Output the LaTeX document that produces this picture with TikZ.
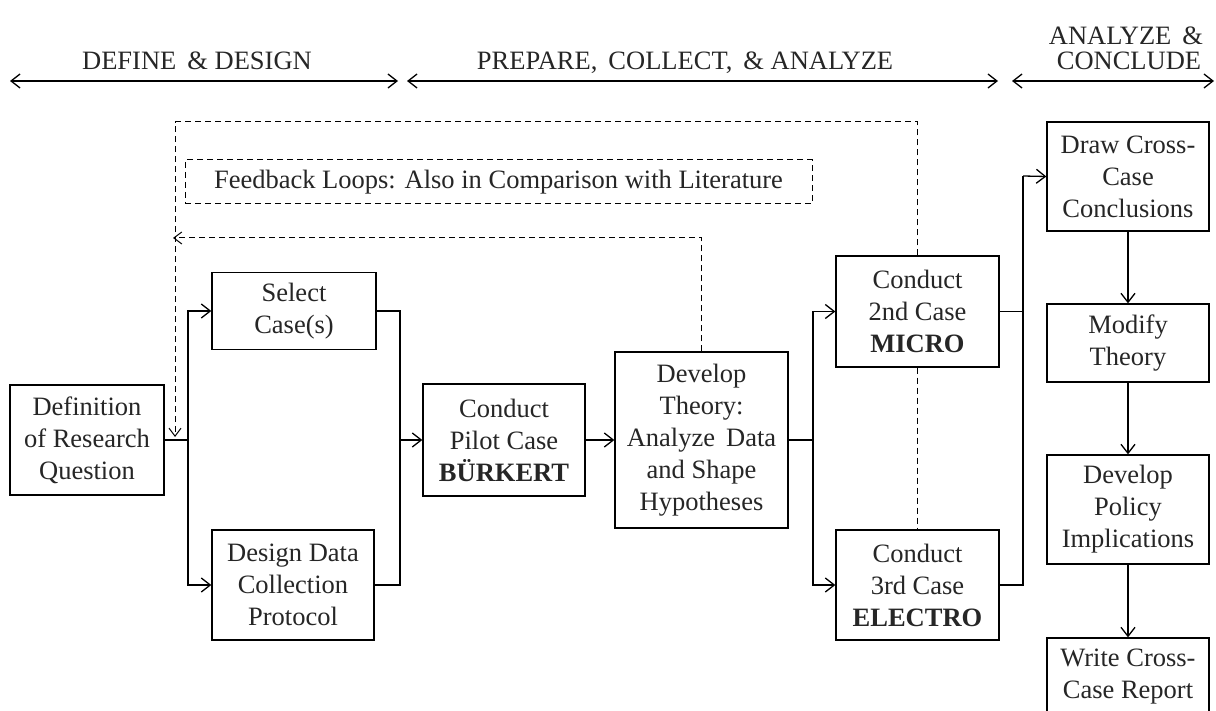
\documentclass[tikz,border=0pt]{standalone}
\usepackage{fontspec}
\setmainfont{Liberation Serif}
\usetikzlibrary{arrows.meta}
\begin{document}
\begin{tikzpicture}[x=1pt,y=-1pt,
  txt/.style={font=\fontsize{26.5}{32}\selectfont, text=black!85},
  box/.style={txt, draw, line width=1.3pt, align=center, inner sep=0pt},
  conn/.style={line width=1.3pt},
  arr/.style={conn, -{Straight Barb[length=9pt,width=14pt,line width=1.3pt]}},
  both/.style={conn, {Straight Barb[length=9pt,width=14pt,line width=1.3pt]}-{Straight Barb[length=9pt,width=14pt,line width=1.3pt]}},
  fb/.style={line width=1pt, dash pattern=on 6pt off 4pt}
]
\useasboundingbox (0,0) rectangle (1216,711);
\fill[white] (0,0) rectangle (1216,711);

% header
\node[txt, anchor=base] (h1) at (197,70) {DEFINE \,\& DESIGN};
\node[txt, anchor=base] (h2) at (685,70) {PREPARE, \,COLLECT, \,\& ANALYZE};
\node[txt, anchor=base] (h3a) at (1126,45) {ANALYZE \,\&};
\node[txt, anchor=base] (h3b) at (1129,70) {CONCLUDE};
\coordinate (a1l) at (10,81); \coordinate (a1r) at (398,81);
\coordinate (a2l) at (407,81); \coordinate (a2r) at (998,81);
\coordinate (a3l) at (1012,81); \coordinate (a3r) at (1214,81);
\draw[both] (a1l) -- (a1r);
\draw[both] (a2l) -- (a2r);
\draw[both] (a3l) -- (a3r);

% boxes
\node[box, minimum width=154pt, minimum height=110pt] (def) at (87,440) {Definition\\of Research\\Question};
\node[box, minimum width=164pt, minimum height=77pt] (sel) at (294,311) {Select\\Case(s)};
\node[box, minimum width=162pt, minimum height=110pt] (des) at (293,585) {Design Data\\Collection\\Protocol};
\node[box, minimum width=162pt, minimum height=112pt] (pil) at (504,440) {Conduct\\Pilot Case\\\textbf{BÜRKERT}};
\node[box, minimum width=173pt, minimum height=176pt] (dev) at (701.5,440) {Develop\\Theory:\\Analyze \,Data\\and Shape\\Hypotheses};
\node[box, minimum width=163pt, minimum height=111pt] (mic) at (917.5,311.5) {Conduct\\2nd Case\\\textbf{MICRO}};
\node[box, minimum width=163pt, minimum height=110pt] (ele) at (917.5,585) {Conduct\\3rd Case\\\textbf{ELECTRO}};
\node[box, minimum width=162pt, minimum height=109pt] (drw) at (1128,176.5) {Draw Cross-\\Case\\Conclusions};
\node[box, minimum width=162pt, minimum height=78pt] (mod) at (1128,343) {Modify\\Theory};
\node[box, minimum width=162pt, minimum height=109pt] (pol) at (1128,509.5) {Develop\\Policy\\Implications};
\node[box, minimum width=162pt, minimum height=77pt] (wri) at (1128,676.5) {Write Cross-\\Case Report};

% feedback label
\node[txt, draw, fb, minimum width=627pt, minimum height=44pt, inner sep=0pt] (fbl) at (498.5,182) {Feedback Loops: Also in Comparison with Literature};

% connectors
\coordinate (b1) at (188,440);
\coordinate (m1) at (400,440);
\coordinate (b2) at (813,440);
\coordinate (m2) at (1023,176);
\draw[conn] (def.east) -- (b1);
\draw[arr] (b1) |- (sel.west);
\draw[arr] (b1) |- (des.west);
\draw[conn] (sel.east) -| (m1);
\draw[conn] (des.east) -| (m1);
\draw[arr] (m1) -- (pil.west);
\draw[arr] (pil.east) -- (dev.west);
\draw[conn] (dev.east) -- (b2);
\draw[arr] (b2) |- (mic.west);
\draw[arr] (b2) |- (ele.west);
\draw[conn] (mic.east) -| (m2);
\draw[conn] (ele.east) -| (m2);
\draw[arr] (m2) -- (drw.west);
\draw[arr] (drw.south) -- (mod.north);
\draw[arr] (mod.south) -- (pol.north);
\draw[arr] (pol.south) -- (wri.north);

% feedback loops
\coordinate (f1) at (175,122);
\coordinate (f2) at (175,437);
\coordinate (f3) at (173,238);
\draw[fb, -{Straight Barb[length=8pt,width=12pt,line width=1pt]}] (mic.north) |- (f1) -- (f2);
\draw[fb, -{Straight Barb[length=8pt,width=12pt,line width=1pt]}] (dev.north) |- (f3);
\draw[fb] (mic.south) -- (ele.north);
\end{tikzpicture}
\end{document}
